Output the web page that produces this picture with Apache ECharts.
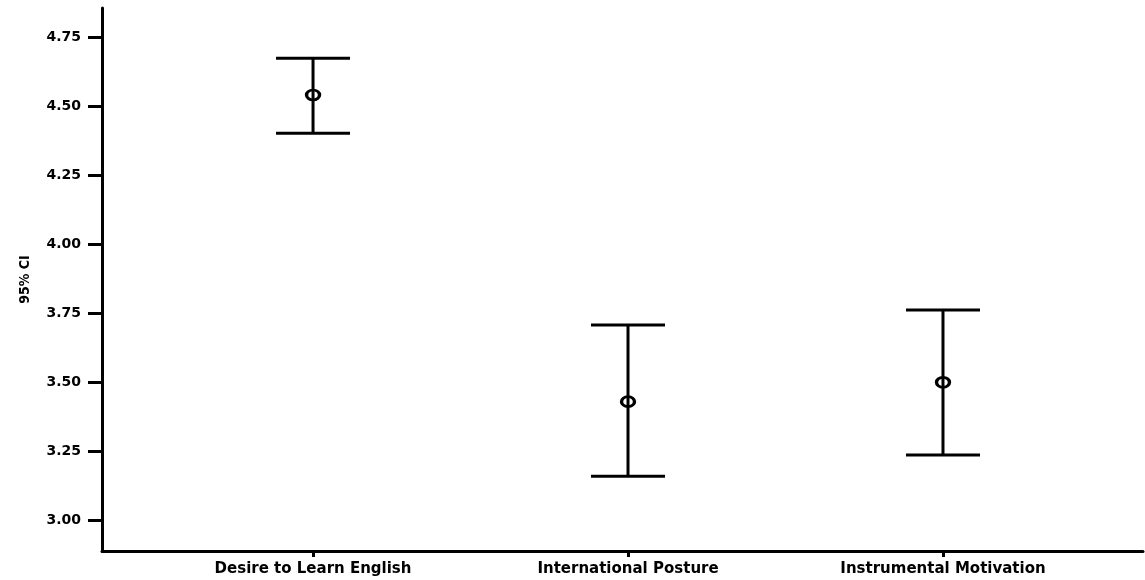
<!DOCTYPE html>
<html>
<head>
<meta charset="utf-8">
<script src="https://cdn.jsdelivr.net/npm/echarts@6/dist/echarts.min.js"></script>
<style>
  html, body { margin: 0; padding: 0; background: #fff; }
  #chart { width: 1145px; height: 580px; }
</style>
</head>
<body>
<div id="chart"></div>
<script>
// categories and values
var categories = ['Desire to Learn English', 'International Posture', 'Instrumental Motivation'];
var xPos = [1, 2, 3];
var means = [4.540, 3.429, 3.499];
var lower = [4.401, 3.159, 3.236];
var upper = [4.673, 3.707, 3.761];
var yTicks = [3.00, 3.25, 3.50, 3.75, 4.00, 4.25, 4.50, 4.75];

var chart = echarts.init(document.getElementById('chart'));

var barData = xPos.map(function (x, i) { return [x, lower[i], upper[i]]; });
var meanData = xPos.map(function (x, i) { return [x, means[i]]; });

var option = {
  animation: false,
  grid: { left: 102, right: 2, top: 8, bottom: 29 },
  xAxis: {
    type: 'value',
    min: 0.330,
    max: 3.635,
    splitLine: { show: false },
    axisLine: { lineStyle: { color: '#000', width: 3 } },
    axisTick: { show: true, length: 6, lineStyle: { color: '#000', width: 3 }, customValues: xPos },
    axisLabel: {
      margin: 11,
      customValues: xPos,
      fontFamily: 'DejaVu Sans', fontWeight: 'bold', fontSize: 15, color: '#000',
      formatter: function (v) { return categories[Math.round(v) - 1] || ''; }
    }
  },
  yAxis: {
    type: 'value',
    min: 2.888,
    max: 4.855,
    name: '95% CI',
    nameLocation: 'middle',
    nameGap: 70,
    nameTextStyle: { fontFamily: 'DejaVu Sans Condensed', fontWeight: 'bold', fontSize: 14, color: '#000' },
    splitLine: { show: false },
    axisLine: { show: true, lineStyle: { color: '#000', width: 3 } },
    axisTick: { show: true, length: 14, lineStyle: { color: '#000', width: 3 }, customValues: yTicks },
    axisLabel: {
      margin: 21,
      customValues: yTicks,
      fontFamily: 'DejaVu Sans', fontWeight: 'bold', fontSize: 14, color: '#000',
      formatter: function (v) { return v.toFixed(2); }
    }
  },
  series: [
    {
      // error bars
      type: 'custom',
      data: barData,
      renderItem: function (params, api) {
        var x = api.value(0);
        var lo = api.coord([x, api.value(1)]);
        var hi = api.coord([x, api.value(2)]);
        var half = 37;
        var style = { stroke: '#000', lineWidth: 3 };
        return {
          type: 'group',
          children: [
            { type: 'line', shape: { x1: lo[0], y1: lo[1], x2: hi[0], y2: hi[1] }, style: style },
            { type: 'line', shape: { x1: hi[0] - half, y1: hi[1], x2: hi[0] + half, y2: hi[1] }, style: style },
            { type: 'line', shape: { x1: lo[0] - half, y1: lo[1], x2: lo[0] + half, y2: lo[1] }, style: style }
          ]
        };
      },
      z: 2
    },
    {
      // means
      type: 'scatter',
      data: meanData,
      symbol: 'circle',
      symbolSize: [13, 10],
      itemStyle: { color: 'transparent', borderColor: '#000', borderWidth: 3, opacity: 1 },
      z: 3
    }
  ]
};

chart.setOption(option);
</script>
</body>
</html>
